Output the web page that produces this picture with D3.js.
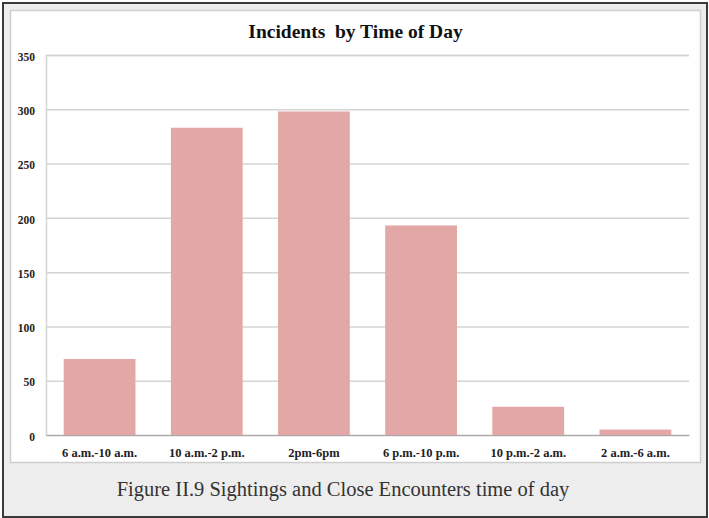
<!DOCTYPE html>
<html>
<head>
<meta charset="utf-8">
<script src="https://cdn.jsdelivr.net/npm/d3@7"></script>
<style>
  html, body { margin: 0; padding: 0; background: #ffffff; }
  svg { display: block; }
  .serif { font-family: "Liberation Serif", "DejaVu Serif", serif; }
</style>
</head>
<body>
<svg id="chart" width="709" height="518"></svg>
<script>
const categories = ["6 a.m.-10 a.m.", "10 a.m.-2 p.m.", "2pm-6pm", "6 p.m.-10 p.m.", "10 p.m.-2 a.m.", "2 a.m.-6 a.m."];
const incidents = [70, 283, 298, 193, 26, 5];
const yTicks = [0, 50, 100, 150, 200, 250, 300, 350];
const titleText = "Incidents\u00a0 by Time of Day";
const captionText = "Figure II.9 Sightings and Close Encounters time of day";

(function () {
const svg = d3.select("#chart");

// outer frame
svg.append("rect").attr("x", 3).attr("y", 3).attr("width", 704).attr("height", 514)
  .attr("fill", "#ededed").attr("stroke", "#3a3a3a").attr("stroke-width", 2);
// inner white panel
svg.append("rect").attr("x", 10.5).attr("y", 10.5).attr("width", 690).attr("height", 452)
  .attr("fill", "#ffffff").attr("stroke", "#cfcfcf").attr("stroke-width", 1.5);

const mLeft = 46, mRight = 689, mTop = 55, mBottom = 435;

const x = d3.scaleBand().domain(categories).range([mLeft, mRight])
  .paddingInner(0.33).paddingOuter(0.165);
const y = d3.scaleLinear().domain([0, 350]).range([mBottom, mTop]);

// gridlines + y labels
const yAxis = d3.axisLeft(y).tickValues(yTicks).tickSize(-(mRight - mLeft)).tickPadding(11);
const gy = svg.append("g").attr("transform", `translate(${mLeft},0)`).call(yAxis);
gy.attr("font-family", null);
gy.select(".domain").attr("stroke", "#d4d4d4").attr("stroke-width", 1.5);
gy.selectAll(".tick line").attr("stroke", "#d4d4d4").attr("stroke-width", 1.5);
gy.selectAll(".tick text").attr("class", "serif").style("font-weight", "bold")
  .style("font-size", "11.5px").attr("fill", "#222").attr("dy", "0.45em");

// bars
svg.append("g").selectAll("rect").data(categories).join("rect")
  .attr("x", d => x(d))
  .attr("width", x.bandwidth())
  .attr("y", (d, i) => y(incidents[i]))
  .attr("height", (d, i) => y(0) - y(incidents[i]))
  .attr("fill", "#e3a7a6");

// x axis
const xAxis = d3.axisBottom(x).tickSize(0).tickPadding(13);
const gx = svg.append("g").attr("transform", `translate(0,${mBottom})`).call(xAxis);
gx.attr("font-family", null);
gx.select(".domain").attr("stroke", "#a8a8a8").attr("stroke-width", 1.2);
gx.selectAll(".tick text").attr("class", "serif").style("font-weight", "bold")
  .style("font-size", "12.5px").attr("fill", "#222");

// title
svg.append("text").attr("class", "serif").attr("x", 355.5).attr("y", 38).attr("text-anchor", "middle")
  .style("font-weight", "bold").style("font-size", "19.5px")
  .attr("fill", "#111").text(titleText);

// caption
svg.append("text").attr("class", "serif").attr("x", 343).attr("y", 496).attr("text-anchor", "middle")
  .style("font-size", "20.5px")
  .attr("fill", "#333").text(captionText);
})();
</script>
</body>
</html>
